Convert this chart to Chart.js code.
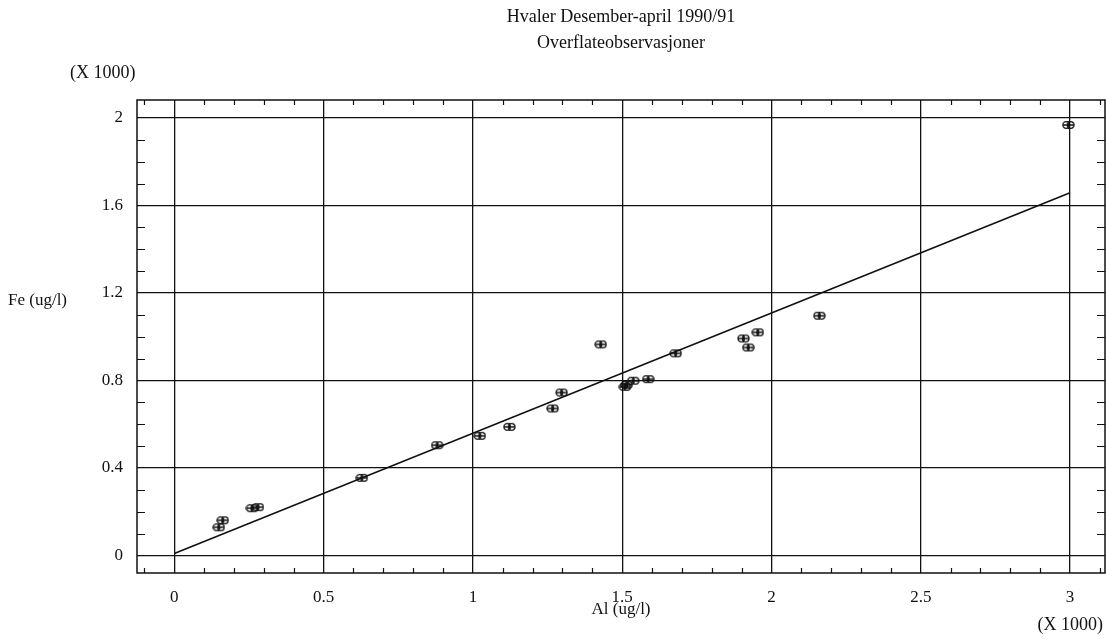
<!DOCTYPE html>
<html>
<head>
<meta charset="utf-8">
<script src="https://cdn.jsdelivr.net/npm/chart.js@4/dist/chart.umd.min.js"></script>
<style>
  html, body { margin: 0; padding: 0; background: #fff; }
  #wrap { width: 1106px; height: 641px; }
</style>
</head>
<body>
<div id="wrap"><canvas id="c" width="1106" height="641"></canvas></div>
<script>
// ---- Data (values in thousands, as on the axes) ----
const titleLines = ["Hvaler Desember-april 1990/91", "Overflateobservasjoner"];
const xAxisTitle = "Al (ug/l)";
const yAxisTitle = "Fe (ug/l)";
const scaleNote = "(X 1000)";

const alValues = [0.149, 0.162, 0.26, 0.28, 0.628, 0.880, 1.023, 1.122, 1.267, 1.297, 1.428, 1.509, 1.515, 1.537, 1.587, 1.679, 1.906, 1.922, 1.954, 2.160, 2.994];
const feValues = [0.129, 0.161, 0.216, 0.221, 0.355, 0.504, 0.547, 0.588, 0.672, 0.745, 0.965, 0.771, 0.780, 0.799, 0.806, 0.924, 0.992, 0.951, 1.020, 1.096, 1.968];

const fitX = [0, 3];
const fitY = [0.009, 1.658];

const xTickValues = [0, 0.5, 1, 1.5, 2, 2.5, 3];
const xTickLabels = ["0", "0.5", "1", "1.5", "2", "2.5", "3"];
const yTickValues = [0, 0.4, 0.8, 1.2, 1.6, 2];
const yTickLabels = ["0", "0.4", "0.8", "1.2", "1.6", "2"];
const minorStep = 0.1;

// ---- Marker ----
function makeMarker() {
  const c = document.createElement('canvas');
  c.width = 13; c.height = 10;
  const g = c.getContext('2d');
  g.strokeStyle = '#111';
  g.lineWidth = 1.3;
  g.beginPath(); g.ellipse(4.2, 5, 3.2, 3.4, 0, 0, Math.PI * 2); g.stroke();
  g.beginPath(); g.ellipse(8.8, 5, 3.2, 3.4, 0, 0, Math.PI * 2); g.stroke();
  g.beginPath();
  g.moveTo(1, 5); g.lineTo(12, 5);
  g.moveTo(6.5, 1); g.lineTo(6.5, 9);
  g.stroke();
  return c;
}
const marker = makeMarker();

const FONT = '"Liberation Serif", "Times New Roman", serif';

const framePlugin = {
  id: 'frame',
  beforeDatasetsDraw(chart) {
    const ctx = chart.ctx;
    const a = chart.chartArea;
    const xs = chart.scales.x, ys = chart.scales.y;
    ctx.save();
    ctx.strokeStyle = '#111';
    ctx.lineWidth = 1.5;
    ctx.strokeRect(a.left, a.top, a.right - a.left, a.bottom - a.top);
    ctx.lineWidth = 1.2;
    ctx.beginPath();
    const isMajor = (v, list) => list.some(m => Math.abs(m - v) < 1e-6);
    for (let i = Math.ceil(xs.min / minorStep); i * minorStep <= xs.max; i++) {
      const v = +(i * minorStep).toFixed(3);
      if (isMajor(v, xTickValues)) continue;
      const px = Math.round(xs.getPixelForValue(v)) + 0.5;
      ctx.moveTo(px, a.bottom); ctx.lineTo(px, a.bottom - 5);
      ctx.moveTo(px, a.top); ctx.lineTo(px, a.top + 5);
    }
    for (let i = Math.ceil(ys.min / minorStep); i * minorStep <= ys.max; i++) {
      const v = +(i * minorStep).toFixed(3);
      if (isMajor(v, yTickValues)) continue;
      const py = Math.round(ys.getPixelForValue(v)) + 0.5;
      ctx.moveTo(a.left, py); ctx.lineTo(a.left + 8, py);
      ctx.moveTo(a.right, py); ctx.lineTo(a.right - 8, py);
    }
    ctx.stroke();
    ctx.restore();
  },
  afterDraw(chart) {
    const ctx = chart.ctx;
    const a = chart.chartArea;
    const cx = (a.left + a.right) / 2;
    ctx.save();
    ctx.fillStyle = '#111';
    ctx.font = '18px ' + FONT;
    ctx.textAlign = 'center';
    ctx.textBaseline = 'middle';
    ctx.fillText(titleLines[0], cx, 17);
    ctx.fillText(titleLines[1], cx, 43);
    ctx.font = '17px ' + FONT;
    ctx.fillText(xAxisTitle, cx, 610);
    ctx.textAlign = 'left';
    ctx.fillText(yAxisTitle, 8, 301);
    ctx.font = '18px ' + FONT;
    ctx.fillText(scaleNote, 70, 73);
    ctx.textAlign = 'right';
    ctx.fillText(scaleNote, 1103, 625);
    ctx.restore();
  }
};

new Chart(document.getElementById('c'), {
  type: 'scatter',
  data: {
    datasets: [
      {
        label: 'obs',
        data: alValues.map((x, i) => ({ x: x, y: feValues[i] })),
        pointStyle: marker,
        pointRadius: 5,
        pointHoverRadius: 5,
        showLine: false
      },
      {
        label: 'fit',
        data: fitX.map((x, i) => ({ x: x, y: fitY[i] })),
        showLine: true,
        borderColor: '#111',
        borderWidth: 1.6,
        pointRadius: 0,
        fill: false
      }
    ]
  },
  options: {
    responsive: false,
    animation: false,
    devicePixelRatio: 1,
    layout: { autoPadding: false, padding: { top: 100, right: 1, left: 0, bottom: 0 } },
    plugins: {
      legend: { display: false },
      title: { display: false },
      tooltip: { enabled: false }
    },
    scales: {
      x: {
        type: 'linear',
        min: -0.125,
        max: 3.117,
        afterBuildTicks: s => { s.ticks = xTickValues.map(v => ({ value: v })); },
        afterFit: s => { s.height = 68; },
        ticks: {
          padding: 14,
          color: '#111',
          font: { family: FONT, size: 17 },
          callback: (v) => { const i = xTickValues.findIndex(t => Math.abs(t - v) < 1e-6); return i >= 0 ? xTickLabels[i] : ''; }
        },
        grid: { color: '#111', lineWidth: 1.3, drawTicks: false },
        border: { display: false }
      },
      y: {
        type: 'linear',
        min: -0.08,
        max: 2.082,
        afterBuildTicks: s => { s.ticks = yTickValues.map(v => ({ value: v })); },
        afterFit: s => { s.width = 137; },
        ticks: {
          padding: 14,
          color: '#111',
          font: { family: FONT, size: 17 },
          callback: (v) => { const i = yTickValues.findIndex(t => Math.abs(t - v) < 1e-6); return i >= 0 ? yTickLabels[i] : ''; }
        },
        grid: { color: '#111', lineWidth: 1.3, drawTicks: false },
        border: { display: false }
      }
    }
  },
  plugins: [framePlugin]
});
</script>
</body>
</html>
